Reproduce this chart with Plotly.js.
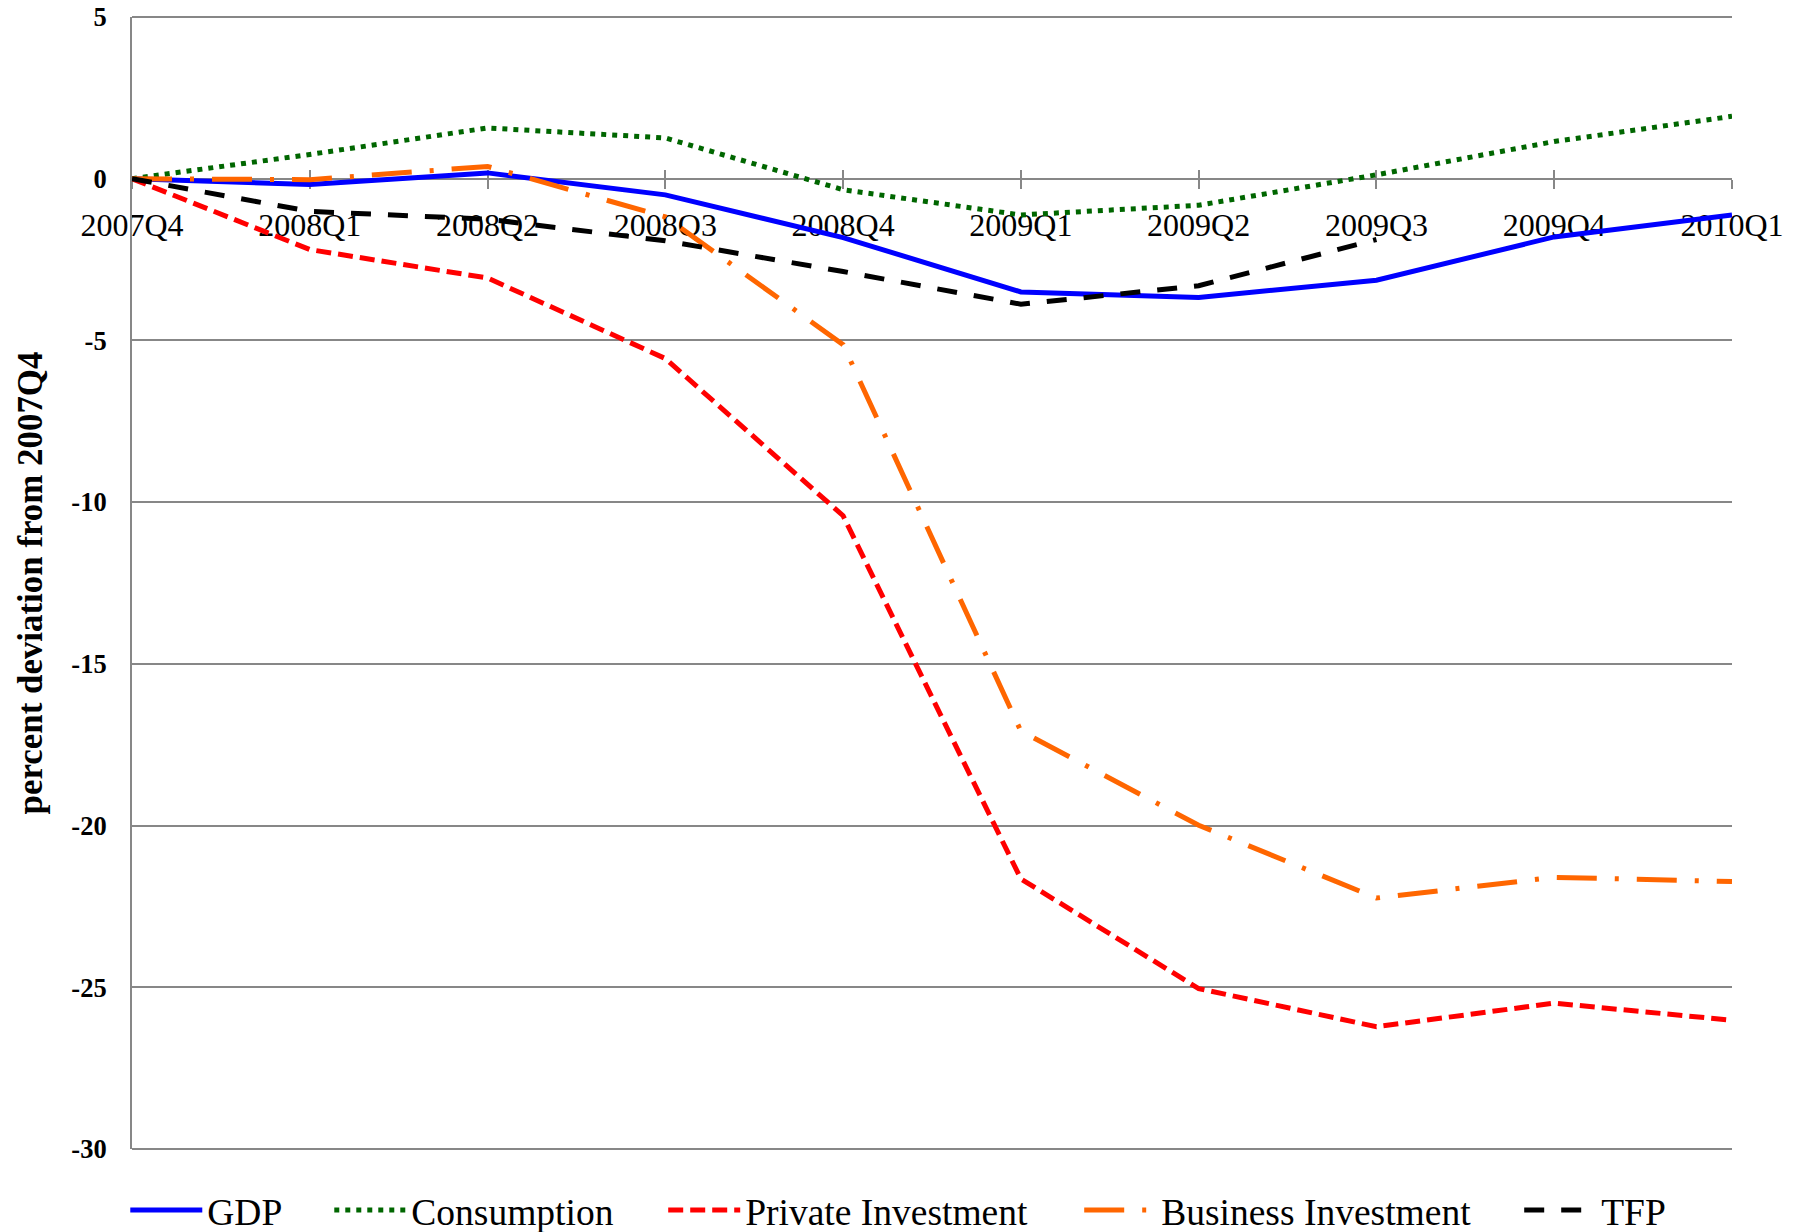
<!DOCTYPE html>
<html>
<head>
<meta charset="utf-8">
<script src="https://cdn.plot.ly/plotly-3.0.1.min.js"></script>
<style>html,body{margin:0;padding:0;background:#fff;}#chart{width:1802px;height:1232px;}</style>
</head>
<body>
<div id="chart"></div>
<script>
const quarters = ["2007Q4","2008Q1","2008Q2","2008Q3","2008Q4","2009Q1","2009Q2","2009Q3","2009Q4","2010Q1"];
const gdp = [0, -0.18, 0.18, -0.5, -1.82, -3.5, -3.67, -3.14, -1.8, -1.12];
const consumption = [0, 0.75, 1.57, 1.26, -0.34, -1.12, -0.82, 0.12, 1.15, 1.93];
const privateInvestment = [0, -2.19, -3.07, -5.56, -10.42, -21.65, -25.04, -26.22, -25.49, -26.02];
const businessInvestment = [0, -0.03, 0.38, -1.18, -5.13, -17.08, -19.99, -22.24, -21.6, -21.73];
const tfp = [0, -1.01, -1.25, -1.92, -2.87, -3.88, -3.31, -1.88, null, null];
const yTicks = [5, 0, -5, -10, -15, -20, -25, -30];

const serif = '"Liberation Serif", "Times New Roman", serif';
const axisGray = '#878787';
const yMin = -30, yMax = 5;
const zeroPos = (0 - yMin) / (yMax - yMin);

const traces = [
  {name: 'GDP', legend: 'legend', x: quarters, y: gdp, mode: 'lines', line: {color: '#0000FF', width: 5}},
  {name: 'Consumption', legend: 'legend2', x: quarters, y: consumption, mode: 'lines', line: {color: '#006600', width: 5, dash: '5px,6px'}},
  {name: 'Private Investment', legend: 'legend3', x: quarters, y: privateInvestment, mode: 'lines', line: {color: '#FF0000', width: 5, dash: '15px,7px'}},
  {name: 'Business Investment', legend: 'legend4', x: quarters, y: businessInvestment, mode: 'lines', line: {color: '#FF6600', width: 5, dash: '40px,18px,4px,18px'}},
  {name: 'TFP', legend: 'legend5', x: quarters, y: tfp, mode: 'lines', line: {color: '#000000', width: 5, dash: '20px,17px'}},
  {x: quarters, y: quarters.map(() => null), xaxis: 'x2', yaxis: 'y', showlegend: false, hoverinfo: 'skip', mode: 'lines'}
];

function leg(x) {
  return {
    orientation: 'h', x: x, xanchor: 'left', y: -0.054, yanchor: 'middle',
    font: {family: serif, size: 37.5, color: '#000'},
    itemwidth: 72, bgcolor: 'rgba(0,0,0,0)', borderwidth: 0
  };
}

const layout = {
  width: 1802, height: 1232,
  margin: {l: 132, r: 70, t: 17, b: 83, autoexpand: false},
  paper_bgcolor: '#ffffff', plot_bgcolor: '#ffffff',
  font: {family: serif, color: '#000'},
  showlegend: true,
  legend: leg(-0.0042),
  legend2: leg(0.1233),
  legend3: leg(0.3320),
  legend4: leg(0.5920),
  legend5: leg(0.8670),
  shapes: [
    {type: 'line', xref: 'paper', yref: 'paper', x0: 0, x1: 1, y0: 1, y1: 1, line: {color: axisGray, width: 2}, layer: 'below'},
    {type: 'line', xref: 'paper', yref: 'paper', x0: 0, x1: 1, y0: 0, y1: 0, line: {color: axisGray, width: 2}, layer: 'below'}
  ],
  xaxis: {
    type: 'category', categoryorder: 'array', categoryarray: quarters,
    range: [0, quarters.length - 1],
    anchor: 'free', position: zeroPos,
    showline: true, linecolor: axisGray, linewidth: 2,
    ticks: 'outside', ticklen: 9, tickwidth: 2, tickcolor: axisGray,
    showgrid: false, zeroline: false,
    tickfont: {family: serif, size: 32, color: '#000'},
    ticklabelstandoff: 9,
    layer: 'below traces'
  },
  xaxis2: {
    type: 'category', categoryorder: 'array', categoryarray: quarters,
    range: [0, quarters.length - 1],
    overlaying: 'x', anchor: 'free', position: zeroPos,
    showline: false, ticks: 'inside', ticklen: 9, tickwidth: 2, tickcolor: axisGray,
    showticklabels: false, showgrid: false, zeroline: false,
    layer: 'below traces'
  },
  yaxis: {
    range: [yMin, yMax], tickvals: yTicks, ticktext: yTicks.map(String),
    showgrid: true, gridcolor: axisGray, gridwidth: 2,
    showline: true, linecolor: axisGray, linewidth: 2,
    zeroline: false, ticks: '',
    tickfont: {family: serif, size: 26.5, color: '#000', weight: 'bold'},
    ticklabelstandoff: 18,
    title: {text: 'percent deviation from 2007Q4', font: {family: serif, size: 34.9, color: '#000', weight: 'bold'}, standoff: 18}
  }
};

Plotly.newPlot('chart', traces, layout, {displayModeBar: false, responsive: false});
</script>
</body>
</html>
